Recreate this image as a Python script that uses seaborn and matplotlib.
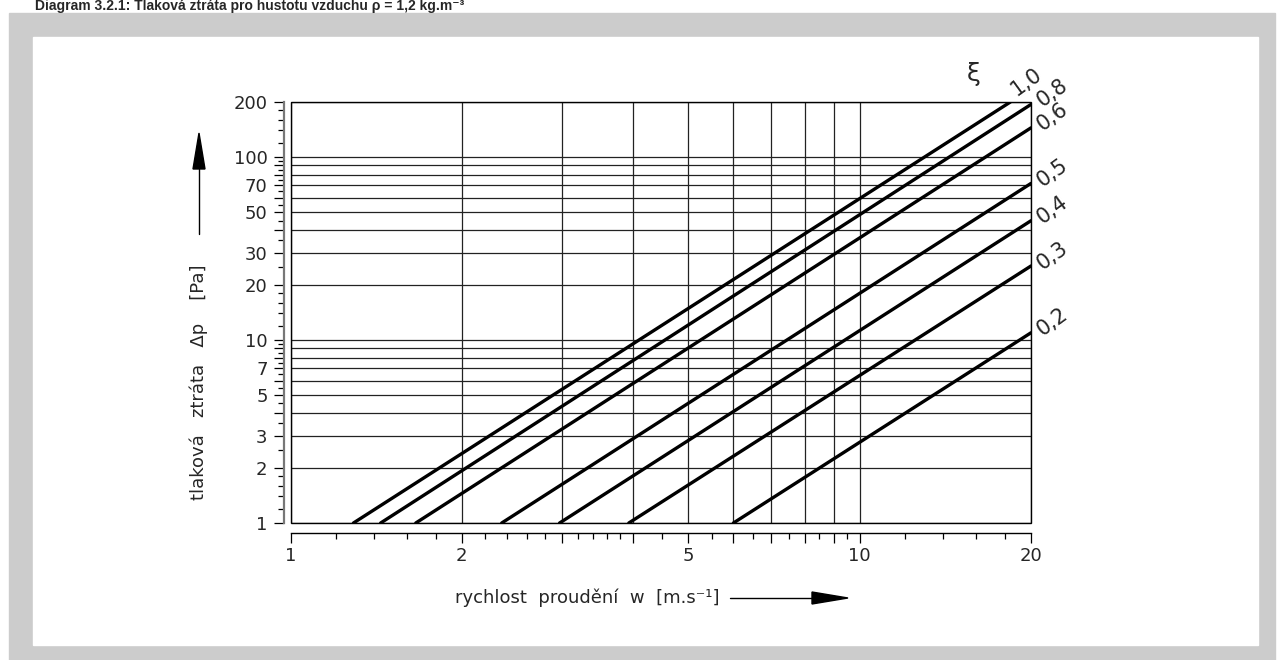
import seaborn as sns
from matplotlib import pyplot as plt
from matplotlib.patches import Rectangle, Polygon
from matplotlib.lines import Line2D
from matplotlib.ticker import FixedLocator, FixedFormatter, NullFormatter
import pandas as pd

# lines: start at dp = 1 Pa, end at the frame
xi_labels = ['1,0', '0,8', '0,6', '0,5', '0,4', '0,3', '0,2']
w_start = [1.29, 1.44, 1.66, 2.35, 2.97, 3.93, 6.0]
w_end = [18.4, 20, 20, 20, 20, 20, 20]
dp_end = [200, 194, 144.5, 71.8, 44.9, 25.4, 10.96]

x_major = [1, 2, 3, 4, 5, 6, 7, 8, 9, 10, 20]
x_labels = ['1', '2', '', '', '5', '', '', '', '', '10', '20']
x_minor = [1.2, 1.4, 1.6, 1.8, 2.2, 2.4, 2.6, 2.8, 3.2, 3.4, 3.6, 3.8,
           4.5, 5.5, 6.5, 7.5, 8.5, 9.5, 12, 14, 16, 18]
y_major = [1, 2, 3, 4, 5, 6, 7, 8, 9, 10, 20, 30, 40, 50, 60, 70, 80, 90, 100, 200]
y_labels = ['1', '2', '3', '', '5', '', '7', '', '', '10', '20', '30', '', '50', '',
            '70', '', '', '100', '200']
y_minor = [1.2, 1.4, 1.6, 1.8, 2.5, 3.5, 4.5, 5.5, 6.5, 7.5, 8.5, 9.5,
           12, 14, 16, 18, 25, 35, 45, 55, 65, 75, 85, 95, 120, 140, 160, 180]

df = pd.DataFrame({
    'w': w_start + w_end,
    'dp': [1] * len(w_start) + dp_end,
    'xi': xi_labels + xi_labels,
})

sns.set_style('white')
plt.rcParams['font.family'] = ['DejaVu Sans']

W, H = 1279, 660
fig = plt.figure(figsize=(W / 100, H / 100), dpi=100)


def fx(x):
    return x / W


def fy(y):
    return 1 - y / H


# frame of the page
fig.add_artist(Rectangle((fx(9), fy(660)), fx(1275) - fx(9), fy(13) - fy(660),
                         transform=fig.transFigure, color='#cccccc', zorder=-10))
fig.add_artist(Rectangle((fx(33), fy(645)), fx(1258) - fx(33), fy(37) - fy(645),
                         transform=fig.transFigure, color='white', zorder=-9))

ax = fig.add_axes([fx(290.5), fy(523), fx(1031) - fx(290.5), fy(102) - fy(523)])
ax.set_facecolor('none')

sns.lineplot(data=df, x='w', y='dp', units='xi', estimator=None, sort=False,
             color='black', lw=2.4, ax=ax, legend=False)

ax.set_xscale('log')
ax.set_yscale('log')
ax.set_xlim(1, 20)
ax.set_ylim(1, 200)

ax.xaxis.set_major_locator(FixedLocator(x_major))
ax.xaxis.set_major_formatter(FixedFormatter(x_labels))
ax.xaxis.set_minor_locator(FixedLocator(x_minor))
ax.xaxis.set_minor_formatter(NullFormatter())
ax.yaxis.set_major_locator(FixedLocator(y_major))
ax.yaxis.set_major_formatter(FixedFormatter(y_labels))
ax.yaxis.set_minor_locator(FixedLocator(y_minor))
ax.yaxis.set_minor_formatter(NullFormatter())

ax.grid(True, which='major', color='#222222', lw=0.9)
ax.tick_params(which='major', direction='out', length=7.5, width=0.9, color='black',
               labelsize=13, pad=3, bottom=True, left=True)
ax.tick_params(which='minor', direction='out', length=4.5, width=0.9, color='black',
               bottom=True, left=True)
ax.tick_params(axis='y', which='major', pad=4)

for s in ['top', 'right']:
    ax.spines[s].set_visible(False)
ax.spines['left'].set_position(('outward', 5))
ax.spines['left'].set_color('#777777')
ax.spines['left'].set_linewidth(1.6)
ax.spines['bottom'].set_position(('outward', 7))
ax.spines['bottom'].set_color('black')
ax.spines['bottom'].set_linewidth(1.0)
ax.add_patch(Rectangle((0, 0), 1, 1, transform=ax.transAxes, fill=False,
                       ec='black', lw=1.0, clip_on=False, zorder=5))
ax.set_xlabel('')
ax.set_ylabel('')

# xi labels
offsets = [(6, 6), (11, -3), (11, -4), (11, -4), (11, -4), (11, -4), (11, -4)]
for lbl, w, p, off in zip(xi_labels, w_end, dp_end, offsets):
    ax.annotate(lbl, xy=(w, p), xytext=off, textcoords='offset pixels',
                rotation=36, rotation_mode='anchor', ha='left', va='baseline',
                fontsize=15, annotation_clip=False)
fig.text(fx(974), fy(74), 'ξ', fontsize=18, ha='center', va='center')

# axis labels with arrows
fig.text(fx(199), fy(382), 'tlaková   ztráta   Δp    [Pa]', rotation=90,
         ha='center', va='center', fontsize=13)
fig.add_artist(Line2D([fx(199), fx(199)], [fy(234), fy(169)],
                      transform=fig.transFigure, color='black', lw=1))
fig.add_artist(Polygon([(fx(193), fy(169)), (fx(205), fy(169)), (fx(199), fy(133))],
                       closed=True, transform=fig.transFigure, color='black'))
fig.text(fx(455), fy(598), 'rychlost  proudění  w  [m.s⁻¹]', ha='left',
         va='center', fontsize=13)
fig.add_artist(Line2D([fx(730), fx(812)], [fy(598), fy(598)],
                      transform=fig.transFigure, color='black', lw=1))
fig.add_artist(Polygon([(fx(812), fy(592)), (fx(812), fy(604)), (fx(848), fy(598))],
                       closed=True, transform=fig.transFigure, color='black'))

# title at the top edge
fig.text(fx(35), fy(10), 'Diagram 3.2.1: Tlaková ztráta pro hustotu vzduchu ρ = 1,2 kg.m⁻³',
         ha='left', va='baseline', fontsize=10, fontweight='bold',
         family=['Liberation Sans', 'DejaVu Sans'])

fig.savefig('out.png', dpi=100)
